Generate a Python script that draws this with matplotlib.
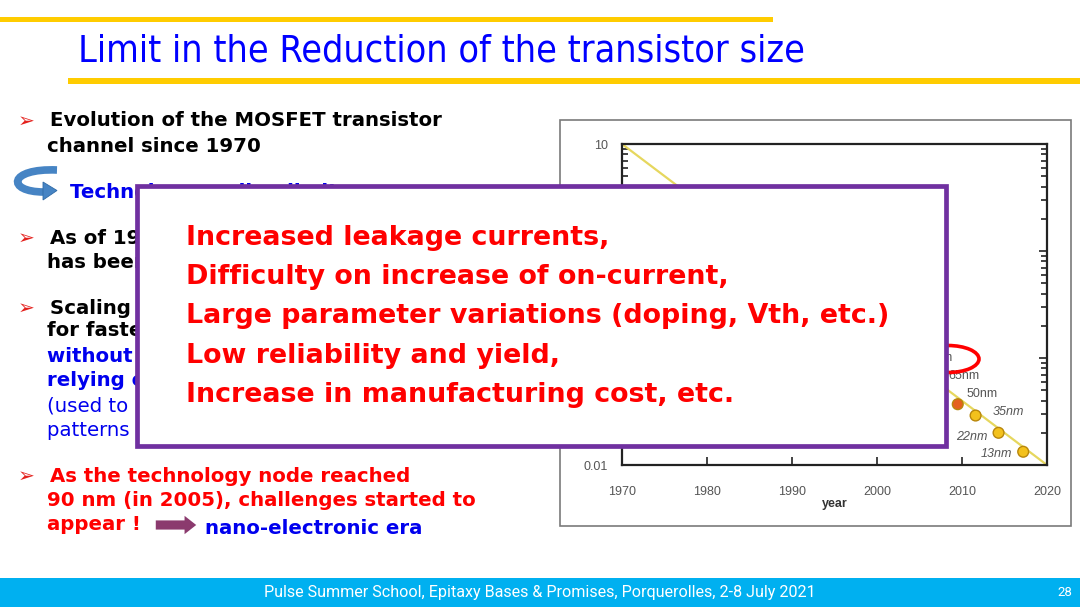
import numpy as np
import matplotlib.pyplot as plt
from matplotlib.patches import Rectangle, Ellipse, FancyArrowPatch, PathPatch, Polygon
from matplotlib.path import Path
from matplotlib.ticker import FuncFormatter, LogLocator, NullLocator

# channel length trend (um) and the recent nodes
trend_years = [1970, 2020]
trend_um = [10, 0.01]

node_years = [2009.5, 2011.6, 2014.3, 2017.2]
node_um = [0.037, 0.029, 0.020, 0.0133]
node_colors = ['#e4601e', '#f3c11c', '#f3c11c', '#f3c11c']

label_text = ['90nm', '65nm', '50nm', '35nm', '22nm', '13nm']
label_years = [2007.0, 2010.2, 2012.4, 2015.4, 2011.2, 2014.1]
label_um = [0.1, 0.068, 0.046, 0.031, 0.0183, 0.0127]
label_italic = [False, False, False, True, True, True]

x_ticks = [1970, 1980, 1990, 2000, 2010, 2020]
y_ticks = [0.01, 0.1, 1, 10]

box_lines = ['Increased leakage currents,',
             'Difficulty on increase of on-current,',
             'Large parameter variations (doping, Vth, etc.)',
             'Low reliability and yield,',
             'Increase in manufacturing cost, etc.']

W, H = 1080, 607
fig = plt.figure(figsize=(W / 100, H / 100), dpi=100)
fig.patch.set_facecolor('white')

def px_axes(z):
  # full-figure axes working in pixel coordinates (y down)
  a = fig.add_axes([0, 0, 1, 1], zorder=z)
  a.set_xlim(0, W)
  a.set_ylim(H, 0)
  a.axis('off')
  return a

bg = px_axes(0)

# slide decoration
bg.add_patch(Rectangle((0, 17), 773, 5, color='#ffcc00', lw=0))
bg.add_patch(Rectangle((68, 78), W - 68, 6, color='#ffcc00', lw=0))
bg.text(78, 52, 'Limit in the Reduction of the transistor size', color='#0000ff',
        fontsize=27, fontstretch='condensed', va='center', ha='left')

bg.add_patch(Rectangle((0, 578), W, 29, color='#00b0f0', lw=0))
bg.text(540, 593, 'Pulse Summer School, Epitaxy Bases & Promises, Porquerolles, 2-8 July 2021',
        color='white', fontsize=11.6, family=['Liberation Sans Narrow', 'Roboto'],
        ha='center', va='center')
bg.text(1065, 593, '28', color='white', fontsize=9.5, family=['Liberation Sans Narrow', 'Roboto'],
        ha='center', va='center')

# bullets on the left
for yb in [121, 238, 308, 476]:
  bg.text(26, yb, '➢', color='#e4201c', fontsize=14.5, ha='center', va='center')

left_lines = [
  (50, 121, 'Evolution of the MOSFET transistor', 'black', 'bold'),
  (47, 146, 'channel since 1970', 'black', 'bold'),
  (70, 192, 'Technology scaling limits', '#0000ee', 'bold'),
  (50, 238, 'As of 1970, the length', 'black', 'bold'),
  (47, 262, 'has been divided', 'black', 'bold'),
  (50, 308, 'Scaling = key', 'black', 'bold'),
  (47, 331, 'for faster chips', 'black', 'bold'),
  (47, 356, 'without new', '#0000ee', 'bold'),
  (47, 381, 'relying on litho', '#0000ee', 'bold'),
  (47, 406, '(used to print', '#0000ee', 'normal'),
  (47, 430, 'patterns on wafers)', '#0000ee', 'normal'),
  (50, 476, 'As the technology node reached', '#ff0000', 'bold'),
  (47, 500, '90 nm (in 2005), challenges started to', '#ff0000', 'bold'),
  (47, 524, 'appear !', '#ff0000', 'bold'),
  (205, 528, 'nano-electronic era', '#0000ee', 'bold'),
]
for xt, yt, s, c, w in left_lines:
  bg.text(xt, yt, s, color=c, fontweight=w, fontsize=14.2, ha='left', va='center')

# curled arrow icon: ribbon + head
curl = Path([(57, 170), (8, 168), (6, 192), (44, 192)],
            [Path.MOVETO, Path.CURVE4, Path.CURVE4, Path.CURVE4])
bg.add_patch(PathPatch(curl, fill=False, ec='#4684c4', lw=5.5, capstyle='butt'))
bg.add_patch(Polygon([(43, 182), (57, 190.5), (43, 200)], closed=True, fc='#4684c4',
                     ec='#2f6aa6', lw=0.6))
bg.add_patch(FancyArrowPatch((153, 525), (199, 525),
                             arrowstyle='simple,head_width=1.1,head_length=0.7,tail_width=0.55',
                             mutation_scale=12, color='#8b3a6e', lw=0))

# frame around the pasted chart
bg.add_patch(Rectangle((560, 120), 511, 406, fc='white', ec='#7a7a7a', lw=1.2))

# the chart itself
ax = fig.add_axes([622 / W, 1 - 465 / H, 425 / W, 321 / H], zorder=2)
ax.plot(trend_years, trend_um, color='#e6d75e', lw=1.6, zorder=2)
ax.scatter(node_years, node_um, s=60, c=node_colors, edgecolors='#b8860b', linewidths=1, zorder=3)
for s, xl, yl, it in zip(label_text, label_years, label_um, label_italic):
  ax.text(xl, yl, s, fontsize=9, color='#555555', family='Liberation Sans',
          style='italic' if it else 'normal', ha='center', va='center', zorder=4)

ax.set_yscale('log')
ax.set_xlim(1970, 2020)
ax.set_ylim(0.01, 10)
ax.set_xticks(x_ticks)
ax.xaxis.set_minor_locator(NullLocator())
ax.set_yticks(y_ticks)
ax.yaxis.set_minor_locator(LogLocator(base=10, subs=np.arange(2, 10)))
ax.yaxis.set_major_formatter(FuncFormatter(lambda v, p: '{:g}'.format(v)))
ax.tick_params(which='both', direction='in', left=True, right=True, top=False, bottom=True,
               color='#222222', width=1.2, labelsize=9, labelcolor='#555555')
ax.tick_params(which='major', length=6)
ax.tick_params(which='minor', length=4)
ax.tick_params(axis='x', pad=15)
ax.tick_params(axis='y', pad=10)
for t in ax.get_xticklabels() + ax.get_yticklabels():
  t.set_family('Liberation Sans')
  t.set_verticalalignment('center_baseline') if t in ax.get_yticklabels() else None
for sp in ax.spines.values():
  sp.set_linewidth(1.6)
  sp.set_color('#222222')
ax.set_xlabel('year', fontsize=9, fontweight='bold', color='#333333', family='Liberation Sans', labelpad=0)

# overlay: highlight ellipse and the purple box
top = px_axes(10)
top.add_patch(Ellipse((948, 359), 62, 27, fill=False, ec='#ff0000', lw=2.6))
top.add_patch(Rectangle((137, 186), 809, 260, fc='white', ec='#7030a0', lw=3.4))
for i, s in enumerate(box_lines):
  top.text(186, 238 + i * 39.2, s, color='#ff0000', fontweight='bold', fontsize=19.4,
           ha='left', va='center')

fig.savefig('out.png', dpi=100)
